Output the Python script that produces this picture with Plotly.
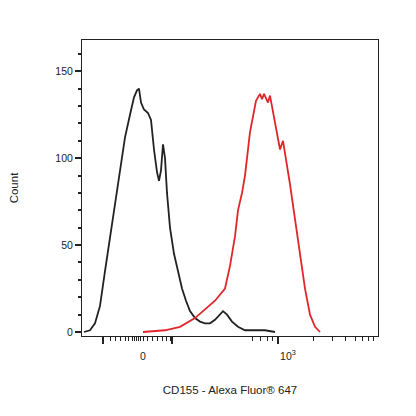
import plotly.graph_objects as go

black_x = [84,90,95,100,105,110,115,120,125,130,134,137,139,141,144,148,151,154,157,159,161,163,165,167,170,174,178,182,186,190,195,200,205,210,215,220,223,227,232,238,245,265,275]
black_y = [0,1,5,15,35,55,75,95,112,125,135,139,140,132,128,126,122,105,92,87,93,108,100,80,60,45,35,25,18,12,8,6,5,5,7,10,12,10,6,3,1,1,0]
red_x = [143,165,180,195,205,215,225,230,235,238,242,245,250,253,256,260,262,264,268,270,273,276,280,283,286,290,295,300,305,310,315,320]
red_y = [0,1,3,8,13,18,25,38,55,70,80,90,115,125,133,137,134,137,132,136,127,118,105,110,100,85,65,45,25,10,3,0]

major_ticks = [103,172,278]
minor_ticks = [110,115,120,125,128,132,134,136,138,140,143,147,152,157,162,166,170,252,260,267,272,313,332,345,355,362,368,373]
label_vals = [143,288]
label_text = ["0","10<sup>3</sup>"]

fig = go.Figure()
fig.add_trace(go.Scatter(x=black_x, y=black_y, mode="lines", line=dict(color="#222", width=1.8), showlegend=False))
fig.add_trace(go.Scatter(x=red_x, y=red_y, mode="lines", line=dict(color="#e0262a", width=1.8), showlegend=False))
fig.add_trace(go.Scatter(x=[None], y=[None], xaxis="x2", showlegend=False))
fig.add_trace(go.Scatter(x=[None], y=[None], xaxis="x3", showlegend=False))
rng = [82,378]
fig.update_layout(
    width=400, height=400, margin=dict(l=74, r=30, t=32, b=72, autoexpand=False),
    paper_bgcolor="white", plot_bgcolor="white",
    font=dict(family="Liberation Sans, Arial", size=10.5, color="#222"),
    xaxis=dict(range=rng, showgrid=False, zeroline=False, tickmode="array", tickvals=major_ticks, ticktext=["","",""],
               ticks="outside", ticklen=7, tickwidth=2, tickcolor="#222", mirror=True, showline=True, linecolor="#222", linewidth=1,
               automargin=False,
               title=dict(text="CD155 - Alexa Fluor® 647", font=dict(size=11.5), standoff=40)),
    xaxis2=dict(range=rng, overlaying="x", side="bottom", anchor="y", showgrid=False, zeroline=False, tickmode="array", automargin=False,
                tickvals=minor_ticks, ticktext=[""]*len(minor_ticks), ticks="outside", ticklen=4, tickwidth=1.2, tickcolor="#222", showline=False),
    xaxis3=dict(range=rng, overlaying="x", side="bottom", anchor="y", showgrid=False, zeroline=False, tickmode="array", automargin=False,
                tickvals=label_vals, ticktext=label_text, ticks="", ticklabelstandoff=12, showline=False, tickfont=dict(size=10.5)),
    yaxis=dict(range=[-2.3,168], showgrid=False, zeroline=False, tickvals=[0,50,100,150], ticks="outside", ticklen=6, tickwidth=2,
               tickcolor="#222", minor=dict(dtick=10, ticks="outside", ticklen=3, tickcolor="#222"), automargin=False,
               mirror=True, showline=True, linecolor="#222", linewidth=1,
               title=dict(text="Count", font=dict(size=11.5), standoff=42)),
)
fig.write_html("out.html")
